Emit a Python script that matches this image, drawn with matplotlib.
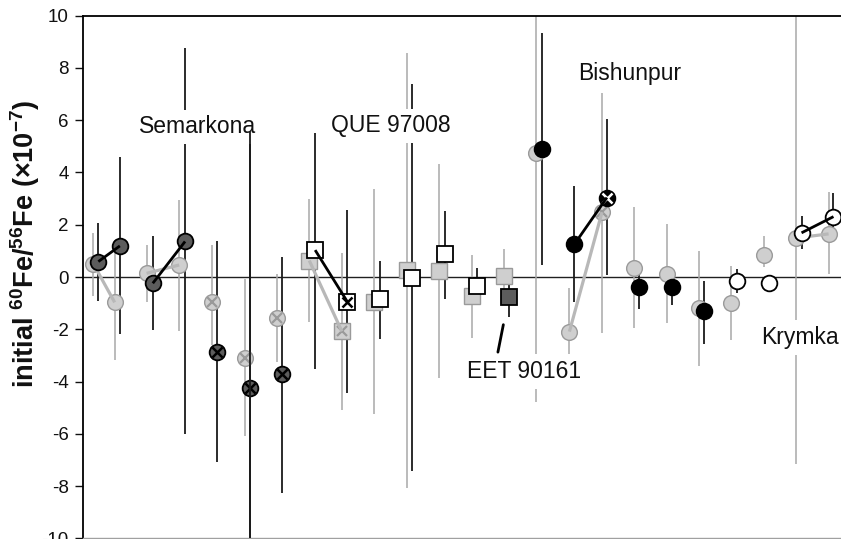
import matplotlib
matplotlib.use("Agg")
import matplotlib.pyplot as plt

plt.rcParams['font.family'] = ['Liberation Sans', 'DejaVu Sans']
plt.rcParams['axes.unicode_minus'] = False
plt.rcParams['mathtext.fontset'] = 'custom'
plt.rcParams['mathtext.rm'] = 'Liberation Sans'
plt.rcParams['mathtext.bf'] = 'Liberation Sans:bold'

# ---- data (light = grey series, dark = second series of each pair) ----
x_light = [0.33, 0.98, 1.96, 2.96, 3.98, 4.97, 5.97, 6.95, 7.95, 8.94, 9.94, 10.94,
           11.93, 12.93, 13.92, 14.93, 15.93, 16.91, 17.91, 18.90, 19.89, 20.90, 21.87, 22.88]
y_light = [0.50, -0.97, 0.14, 0.46, -0.95, -3.10, -1.57, 0.63, -2.08, -0.95, 0.26, 0.24,
           -0.72, 0.04, 4.74, -2.09, 2.48, 0.34, 0.13, -1.17, -0.99, 0.83, 1.49, 1.65]
light_hi = [1.69, 1.42, 1.23, 2.94, 1.23, -0.09, 0.11, 3.00, 0.92, 3.36, 8.56, 4.32,
            0.86, 1.09, 11.0, -0.42, 7.06, 2.67, 2.02, 0.99, 0.43, 1.55, 11.0, 3.27]
light_lo = [-0.71, -3.19, -0.95, -2.07, -2.60, -6.09, -3.25, -1.74, -5.10, -5.23, -8.06, -3.87,
            -2.33, -0.50, -4.77, -3.39, -2.13, -1.94, -1.77, -3.39, -2.40, 0.40, -7.14, 0.11]

x_dark = [0.48, 1.14, 2.15, 3.14, 4.13, 5.13, 6.12, 7.13, 8.12, 9.11, 10.10, 11.10,
          12.10, 13.09, 14.10, 15.08, 16.08, 17.06, 18.07, 19.06, 20.06, 21.06, 22.05, 23.03]
y_dark = [0.59, 1.19, -0.24, 1.36, -2.86, -4.24, -3.72, 1.03, -0.95, -0.86, -0.05, 0.87,
          -0.33, -0.75, 4.89, 1.25, 3.04, -0.37, -0.37, -1.32, -0.17, -0.24, 1.69, 2.31]
dark_hi = [2.08, 4.58, 1.58, 8.76, 1.36, 5.57, 0.76, 5.51, 2.58, 0.63, 7.38, 2.54,
           0.33, -0.30, 9.33, 3.47, 6.06, 0.10, 0.00, -0.16, 0.30, -0.24, 2.32, 3.20]
dark_lo = [-0.90, -2.20, -2.03, -6.02, -7.08, -11.0, -8.26, -3.52, -4.44, -2.37, -7.43, -0.84,
           -0.60, -1.54, 0.47, -0.95, 0.07, -1.21, -1.08, -2.57, -0.62, -0.24, 1.09, 1.80]

# categories of each pair
shape = ['o'] * 7 + ['s'] * 7 + ['o'] * 10
dark_kind = ['grey'] * 7 + ['white'] * 6 + ['grey'] + ['black'] * 6 + ['white'] * 4
crossed = [4, 5, 6, 8, 16]
links = [(0, 1), (2, 3), (7, 8), (15, 16), (22, 23)]
bar_over_label = [5]

labels = ['Semarkona', 'QUE 97008', 'Bishunpur', 'Krymka', 'EET 90161']
label_x = [3.53, 9.46, 16.77, 22.0, 13.55]
label_y = [5.75, 5.78, 7.78, -2.32, -3.62]
y_ticks = [-10, -8, -6, -4, -2, 0, 2, 4, 6, 8, 10]

# ---- styles ----
L_FILL, L_EDGE, L_BAR, L_LINE = '#cfcfcf', '#9a9a9a', '#a8a8a8', '#b8b8b8'
D_FILL = {'grey': '#5c5c5c', 'white': '#ffffff', 'black': '#000000'}
X_COL = {'grey': '#000000', 'white': '#000000', 'black': '#ffffff'}
MS = {'o': 11.3, 's': 11.3}

fig = plt.figure(figsize=(8.41, 5.39), dpi=100)
ax = fig.add_axes([82.7 / 841, 0.7 / 539, 1 - 82.7 / 841, (538.3 - 15.7) / 539])
ax.set_xlim(0, (841 - 82.7) / 32.6)
ax.set_ylim(-10, 10)

ax.axhline(0, color='#202020', lw=1.0, zorder=1.5)

# error bars
ax.vlines(x_light, light_lo, light_hi, colors=L_BAR, lw=1.1, zorder=2)
ax.vlines(x_dark, dark_lo, dark_hi, colors='#1a1a1a', lw=1.3, zorder=2.1)
for i in bar_over_label:
    ax.vlines(x_dark[i], dark_lo[i], dark_hi[i], colors='#1a1a1a', lw=1.3, zorder=9)

# light markers
for i in range(len(x_light)):
    ax.plot(x_light[i], y_light[i], marker=shape[i], ms=MS[shape[i]], mfc=L_FILL,
            mec=L_EDGE, mew=1.0, ls='none', zorder=3)
    if i in crossed:
        ax.plot(x_light[i], y_light[i], marker='x', ms=7, mec=L_EDGE, mew=1.6,
                ls='none', zorder=3.1)
for a, b in links:
    ax.plot([x_light[a], x_light[b]], [y_light[a], y_light[b]], color=L_LINE,
            lw=2.3, solid_capstyle='butt', zorder=3.5)

# dark markers
for i in range(len(x_dark)):
    k = dark_kind[i]
    ax.plot(x_dark[i], y_dark[i], marker=shape[i], ms=MS[shape[i]], mfc=D_FILL[k],
            mec='#000000', mew=1.3, ls='none', zorder=4)
    if i in crossed:
        ax.plot(x_dark[i], y_dark[i], marker='x', ms=7, mec=X_COL[k], mew=1.8,
                ls='none', zorder=4.1)
for a, b in links:
    ax.plot([x_dark[a], x_dark[b]], [y_dark[a], y_dark[b]], color='#000000',
            lw=2.0, solid_capstyle='butt', zorder=4.5)

# labels
for t, lx, ly in zip(labels, label_x, label_y):
    ax.text(lx, ly, t, ha='center', va='center', fontsize=16.5, color='#111111',
            bbox=dict(boxstyle='square,pad=0.25', fc='white', ec='none'), zorder=6)
ax.annotate('', xy=(12.92, -1.72), xytext=(12.72, -2.98),
            arrowprops=dict(arrowstyle='-', lw=2.0, color='#000000'), zorder=6)

# axes styling
ax.set_yticks(y_ticks)
ax.set_xticks([])
ax.tick_params(axis='y', direction='out', length=5.5, width=1.0, pad=4.5,
               labelsize=13.5, colors='#111111')
ax.spines['right'].set_visible(False)
ax.spines['top'].set_linewidth(1.3)
ax.spines['left'].set_linewidth(1.3)
ax.spines['bottom'].set_color('#a0a0a0')
ax.spines['bottom'].set_linewidth(1.0)

ax.set_ylabel(r'initial $^{\mathbf{60}}$Fe/$^{\mathbf{56}}$Fe (×10$^{\mathbf{-7}}$)',
              fontsize=19.5, fontweight='bold', color='#111111')
ax.yaxis.label.set_verticalalignment('center')
ax.yaxis.set_label_coords((25 - 82.7) / (841 - 82.7), (539 - 235) / 539)

fig.savefig('out.png', dpi=100)
